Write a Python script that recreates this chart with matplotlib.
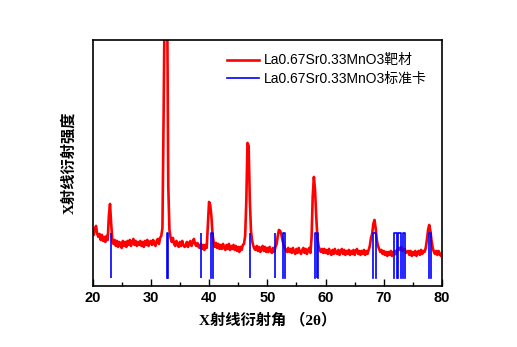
import numpy as np
import matplotlib
matplotlib.use("Agg")
import matplotlib.pyplot as plt
from matplotlib.ticker import MultipleLocator

plt.rcParams['font.family'] = ['Liberation Sans', 'Noto Sans CJK SC']

# XRD pattern of the target, 2theta from 20 to 80 deg in 0.2 deg steps
two_theta = np.linspace(20, 80, 301)
intensity = [
    55, 51, 57, 60, 52, 49, 52, 46, 51, 45,       # 20-21.8
    49, 44, 50, 46, 70, 82, 62, 46, 42, 46,       # 22-23.8
    40, 45, 39, 44, 42, 38, 45, 40, 44, 39,       # 24-25.8
    45, 41, 46, 40, 44, 47, 41, 45, 40, 44,       # 26-27.8
    41, 45, 40, 44, 39, 45, 41, 46, 40, 44,       # 28-29.8
    45, 41, 46, 42, 40, 45, 47, 42, 48, 50,       # 30-31.8
    58, 170, 300, 300, 300, 100, 56, 48, 44, 48,  # 32-33.8
    42, 40, 45, 41, 39, 44, 40, 45, 41, 39,       # 34-35.8
    40, 44, 39, 43, 45, 40, 44, 47, 42, 40,       # 36-37.8
    43, 39, 38, 42, 37, 41, 36, 41, 38, 62,       # 38-39.8
    84, 81, 70, 52, 43, 39, 43, 38, 42, 37,       # 40-41.8
    41, 37, 42, 38, 36, 41, 37, 42, 36, 40,       # 42-43.8
    37, 41, 36, 40, 35, 39, 34, 39, 36, 41,       # 44-45.8
    42, 50, 85, 143, 140, 86, 55, 45, 40, 37,     # 46-47.8
    36, 40, 35, 39, 34, 38, 40, 35, 39, 34,       # 48-49.8
    38, 34, 39, 35, 33, 38, 34, 39, 42, 50,       # 50-51.8
    56, 55, 52, 46, 41, 38, 36, 34, 38, 34,       # 52-53.8
    37, 33, 38, 34, 32, 37, 33, 38, 34, 32,       # 54-55.8
    36, 38, 33, 37, 32, 36, 38, 33, 48, 90,       # 56-57.8
    109, 96, 70, 48, 40, 36, 34, 37, 33, 37,      # 58-59.8
    33, 36, 32, 37, 33, 31, 36, 32, 37, 33,       # 60-61.8
    32, 36, 31, 35, 37, 32, 36, 31, 35, 32,       # 62-63.8
    36, 31, 35, 32, 36, 31, 35, 37, 32, 35,       # 64-65.8
    31, 35, 32, 36, 31, 35, 32, 36, 40, 48,       # 66-67.8
    52, 62, 66, 58, 46, 40, 37, 34, 36, 32,       # 68-69.8
    35, 31, 34, 30, 34, 31, 35, 30, 34, 31,       # 70-71.8
    35, 32, 37, 38, 36, 39, 35, 36, 37, 33,       # 72-73.8
    34, 35, 31, 35, 30, 34, 31, 35, 30, 34,       # 74-75.8
    35, 31, 36, 32, 35, 34, 38, 46, 56, 61,       # 76-77.8
    55, 45, 38, 34, 32, 35, 31, 35, 32, 30,       # 78-79.8
    33,                                           # 80
]

# standard card reflections
card_single = [23.2, 38.6, 47.1, 51.3, 58.45]
card_pairs = [(32.8, 33.0), (40.35, 40.7), (52.7, 53.0), (58.2, 58.75),
              (68.1, 68.6), (71.8, 72.2), (72.5, 72.9), (73.3, 73.6),
              (77.7, 78.1)]
card_base = 8
card_top = 53

fig = plt.figure(figsize=(5.17, 3.47), dpi=100)
ax = fig.add_axes([0.179, 0.176, 0.676, 0.709])

ax.plot(two_theta, intensity, color='red', lw=1.9, label='La0.67Sr0.33MnO3靶材')

ax.vlines(card_single, card_base, card_top, color='blue', lw=1.2)
for i, (a, b) in enumerate(card_pairs):
    ax.plot([a, a, b, b], [card_base, card_top, card_top, card_base], color='blue', lw=1.2,
            label='La0.67Sr0.33MnO3标准卡' if i == 0 else None)

ax.set_xlim(20, 80)
ax.set_ylim(0, 246)
ax.xaxis.set_major_locator(MultipleLocator(10))
ax.xaxis.set_minor_locator(MultipleLocator(5))
ax.tick_params(axis='x', which='both', direction='in', top=False)
ax.tick_params(axis='x', which='major', length=5, width=1)
ax.tick_params(axis='x', which='minor', length=3, width=1)
ax.set_yticks([])
for lab in ax.get_xticklabels():
    lab.set_fontweight('bold')
    lab.set_fontsize(10.5)
for sp in ax.spines.values():
    sp.set_linewidth(1.2)

lab_font = dict(family=['Liberation Serif', 'Noto Sans CJK SC'], weight='bold', size=11)
ax.set_xlabel('X射线衍射角 （2θ）', labelpad=6, **lab_font)
ax.set_ylabel('X射线衍射强度', labelpad=12, **lab_font)

ax.legend(loc='upper left', bbox_to_anchor=(0.384, 0.945), frameon=False,
          handlelength=2.3, handletextpad=0.4, borderpad=0, borderaxespad=0,
          labelspacing=0.3, prop={'size': 10})

fig.savefig('out.png', dpi=100)
